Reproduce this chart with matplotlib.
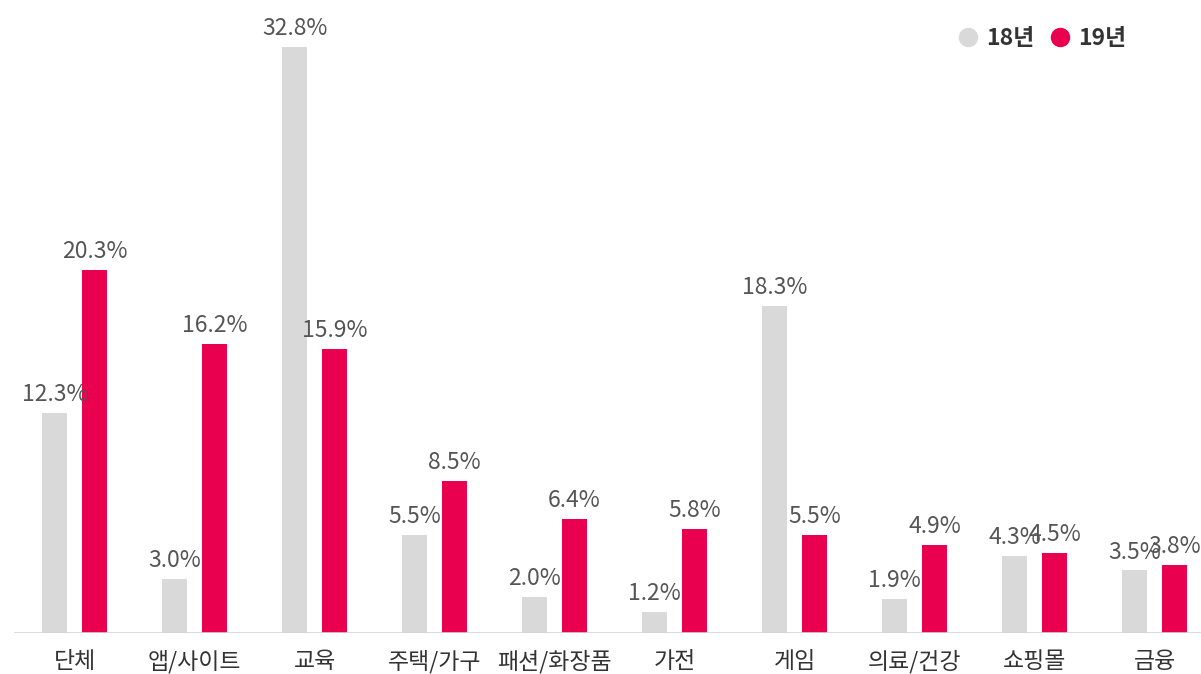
import numpy as np
import matplotlib.pyplot as plt
from matplotlib.lines import Line2D

plt.rcParams['font.family'] = ['Noto Sans CJK KR', 'DejaVu Sans']

categories = ['단체', '앱/사이트', '교육', '주택/가구', '패션/화장품', '가전', '게임', '의료/건강', '쇼핑몰', '금융']
y18 = [12.3, 3.0, 32.8, 5.5, 2.0, 1.2, 18.3, 1.9, 4.3, 3.5]
y19 = [20.3, 16.2, 15.9, 8.5, 6.4, 5.8, 5.5, 4.9, 4.5, 3.8]
series_names = ['18년', '19년']

grey = '#d9d9d9'
red = '#e9004f'

fig = plt.figure(figsize=(12.01, 6.74), dpi=100)
ax = fig.add_axes([0, 1 - 633 / 674, 1, 633 / 674])

x = np.arange(len(categories))
w = 25 / 120
off = 20 / 120

b1 = ax.bar(x - off, y18, width=w, color=grey)
b2 = ax.bar(x + off, y19, width=w, color=red)

for bars, vals in ((b1, y18), (b2, y19)):
    for b, v in zip(bars, vals):
        ax.annotate('{:.1f}%'.format(v), (b.get_x() + b.get_width() / 2, v),
                    xytext=(0, 5), textcoords='offset points',
                    ha='center', va='bottom', fontsize=16.5, color='#555555')

ax.set_xlim(-74.5 / 120, (1201 - 74.5) / 120)
ax.set_ylim(0, 633 / 17.87)

ax.axhline(0, xmin=15 / 1201, xmax=1, color='#d4d4d4', lw=1.2)

for s in ax.spines.values():
    s.set_visible(False)
ax.set_yticks([])
ax.set_xticks(x)
ax.set_xticklabels(categories, fontsize=16.5, color='#333333')
ax.tick_params(axis='x', length=0, pad=12)

handles = [Line2D([], [], marker='o', ls='', color=grey, ms=13),
           Line2D([], [], marker='o', ls='', color=red, ms=13)]
leg = ax.legend(handles, series_names, loc='upper right', ncol=2, frameon=False,
                bbox_to_anchor=(1126 / 1201, 1 - 27 / 633), borderaxespad=0,
                borderpad=0, handlelength=1.0, handletextpad=0.3,
                columnspacing=0.6, prop={'size': 16.5, 'weight': 'bold'})
for t in leg.get_texts():
    t.set_color('#333333')

fig.savefig('out.png', dpi=100)
